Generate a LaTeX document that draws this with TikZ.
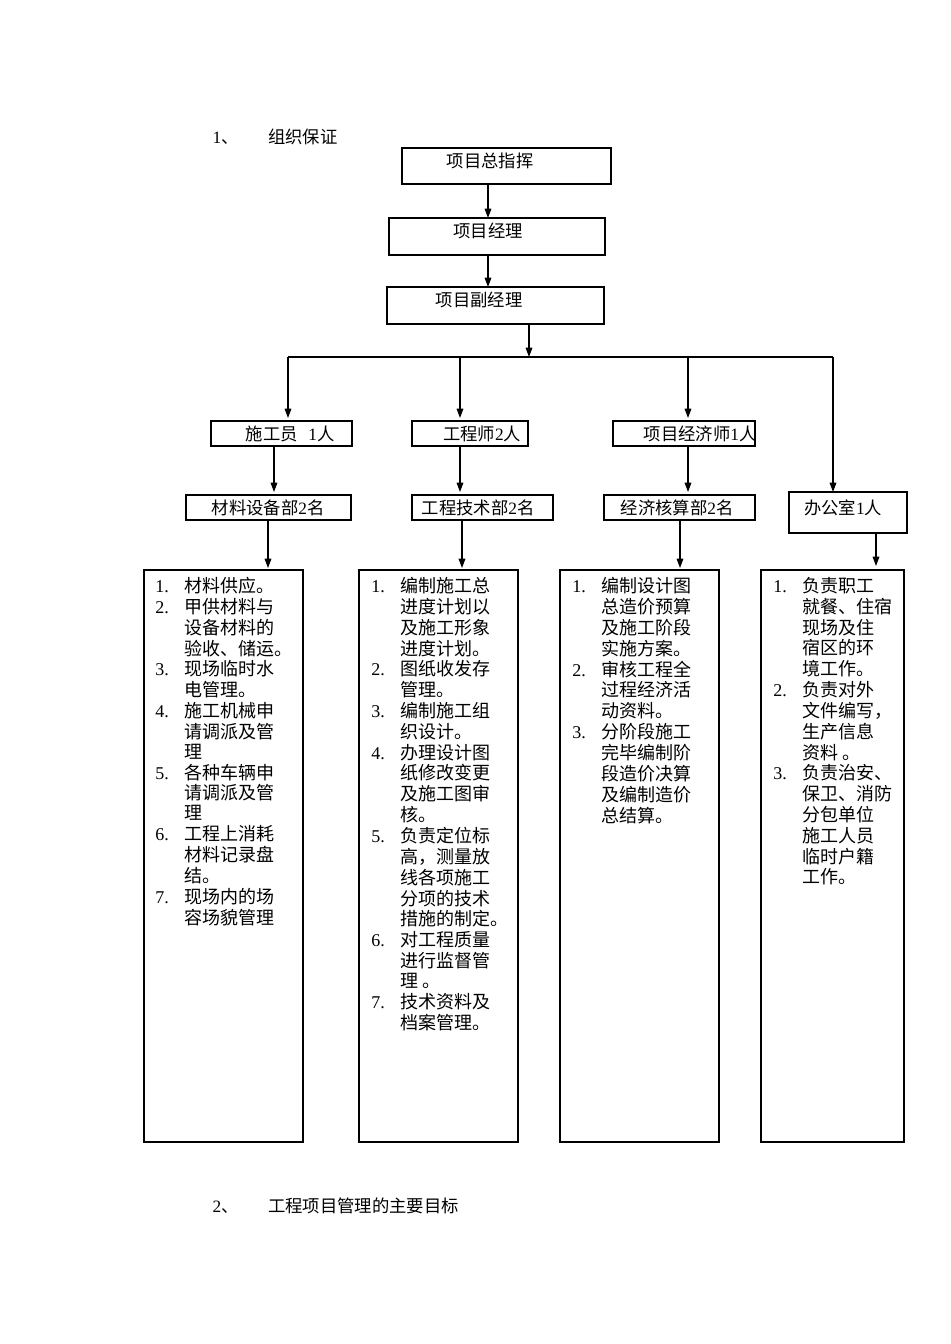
\documentclass[tikz,border=0pt]{standalone}
\usepackage{fontspec}
\setmainfont{Liberation Serif}
\newfontfamily\cjk{Noto Sans CJK SC}
\usetikzlibrary{arrows.meta}
\tikzset{
 bx/.style={draw,thick,minimum height=#1},
 hd/.style={font=\cjk\fontsize{13}{15}\selectfont},
 lst/.style={anchor=north west,inner sep=0pt,font=\cjk\fontsize{13.5}{15}\selectfont},
 ar/.style={-{Triangle[length=7pt,width=5pt]},thick}
}
\newcommand{\rw}[2]{\makebox[22pt][l]{\rmfamily #1}#2\\}
\newcommand{\rc}[1]{\makebox[22pt][l]{}#1\\}
\renewcommand{\arraystretch}{0.94}
\begin{document}
\begin{tikzpicture}[x=0.75pt,y=-0.75pt]
\useasboundingbox (0,0) rectangle (950,1344);
\node[hd,anchor=west] (t1) at (208,137) {{\rmfamily 1}、\hspace{22pt}组织保证};
\node[hd,anchor=west] (t2) at (208,1206) {{\rmfamily 2}、\hspace{22pt}工程项目管理的主要目标};
% top boxes
\draw[thick] (402,148) rectangle (611,184);
\node[hd] (a) at (490,161) {项目总指挥};
\draw[thick] (389,218) rectangle (605,255);
\node[hd] (b) at (488,231) {项目经理};
\draw[thick] (387,287) rectangle (604,324);
\node[hd] (c) at (479,300) {项目副经理};
\coordinate (a1) at (488,184); \coordinate (b0) at (488,218);
\coordinate (b1) at (488,255); \coordinate (c0) at (488,287);
\draw[ar] (a1)--(b0); \draw[ar] (b1)--(c0);
\coordinate (c1) at (529,324); \coordinate (c2) at (529,357);
\draw[ar] (c1)--(c2);
\coordinate (hl) at (288,357); \coordinate (hr) at (833,357);
\draw[thick] (hl)--(hr);
\coordinate (p1) at (288,418); \coordinate (p2) at (460,418);
\coordinate (p3) at (688,418); \coordinate (p4) at (833,492);
\coordinate (q2) at (460,357); \coordinate (q3) at (688,357);
\draw[ar] (hl)--(p1); \draw[ar] (q2)--(p2); \draw[ar] (q3)--(p3); \draw[ar] (hr)--(p4);
% row 1
\draw[thick] (211,421) rectangle (352,446);
\node[hd] (r1) at (290,434) {施工员\hspace{8pt}{\rmfamily 1}人};
\draw[thick] (412,421) rectangle (528,446);
\node[hd] (r2) at (482,434) {工程师{\rmfamily 2}人};
\draw[thick] (613,421) rectangle (755,446);
\node[hd] (r3) at (700,434) {项目经济师{\rmfamily 1}人};
\coordinate (s1a) at (274,446); \coordinate (s1b) at (274,492);
\coordinate (s2a) at (460,446); \coordinate (s2b) at (460,492);
\coordinate (s3a) at (688,446); \coordinate (s3b) at (688,492);
\draw[ar] (s1a)--(s1b); \draw[ar] (s2a)--(s2b); \draw[ar] (s3a)--(s3b);
% row 2
\draw[thick] (186,495) rectangle (351,520);
\node[hd] (d1) at (268,508) {材料设备部{\rmfamily 2}名};
\draw[thick] (412,495) rectangle (553,520);
\node[hd] (d2) at (478,508) {工程技术部{\rmfamily 2}名};
\draw[thick] (604,495) rectangle (755,520);
\node[hd] (d3) at (677,508) {经济核算部{\rmfamily 2}名};
\draw[thick] (789,492) rectangle (907,533);
\node[hd] (d4) at (843,508) {办公室{\rmfamily 1}人};
\coordinate (e1a) at (268,520); \coordinate (e1b) at (268,568);
\coordinate (e2a) at (462,520); \coordinate (e2b) at (462,568);
\coordinate (e3a) at (680,520); \coordinate (e3b) at (680,568);
\coordinate (e4a) at (876,533); \coordinate (e4b) at (876,566);
\draw[ar] (e1a)--(e1b); \draw[ar] (e2a)--(e2b); \draw[ar] (e3a)--(e3b); \draw[ar] (e4a)--(e4b);
% big boxes
\draw[thick] (144,570) rectangle (303,1142);
\draw[thick] (359,570) rectangle (518,1142);
\draw[thick] (560,570) rectangle (719,1142);
\draw[thick] (761,570) rectangle (904,1142);
\node[lst] (l1) at (155,577) {\begin{tabular}{@{}l@{}}
\rw{1.}{材料供应。}
\rw{2.}{甲供材料与}\rc{设备材料的}\rc{验收、储运。}
\rw{3.}{现场临时水}\rc{电管理。}
\rw{4.}{施工机械申}\rc{请调派及管}\rc{理}
\rw{5.}{各种车辆申}\rc{请调派及管}\rc{理}
\rw{6.}{工程上消耗}\rc{材料记录盘}\rc{结。}
\rw{7.}{现场内的场}\rc{容场貌管理}
\end{tabular}};
\node[lst] (l2) at (371,577) {\begin{tabular}{@{}l@{}}
\rw{1.}{编制施工总}\rc{进度计划以}\rc{及施工形象}\rc{进度计划。}
\rw{2.}{图纸收发存}\rc{管理。}
\rw{3.}{编制施工组}\rc{织设计。}
\rw{4.}{办理设计图}\rc{纸修改变更}\rc{及施工图审}\rc{核。}
\rw{5.}{负责定位标}\rc{高，测量放}\rc{线各项施工}\rc{分项的技术}\rc{措施的制定。}
\rw{6.}{对工程质量}\rc{进行监督管}\rc{理 。}
\rw{7.}{技术资料及}\rc{档案管理。}
\end{tabular}};
\node[lst] (l3) at (572,577) {\begin{tabular}{@{}l@{}}
\rw{1.}{编制设计图}\rc{总造价预算}\rc{及施工阶段}\rc{实施方案。}
\rw{2.}{审核工程全}\rc{过程经济活}\rc{动资料。}
\rw{3.}{分阶段施工}\rc{完毕编制阶}\rc{段造价决算}\rc{及编制造价}\rc{总结算。}
\end{tabular}};
\node[lst] (l4) at (773,577) {\begin{tabular}{@{}l@{}}
\rw{1.}{负责职工}\rc{就餐、住宿}\rc{现场及住}\rc{宿区的环}\rc{境工作。}
\rw{2.}{负责对外}\rc{文件编写，}\rc{生产信息}\rc{资料 。}
\rw{3.}{负责治安、}\rc{保卫、消防}\rc{分包单位}\rc{施工人员}\rc{临时户籍}\rc{工作。}
\end{tabular}};
\end{tikzpicture}
\end{document}
